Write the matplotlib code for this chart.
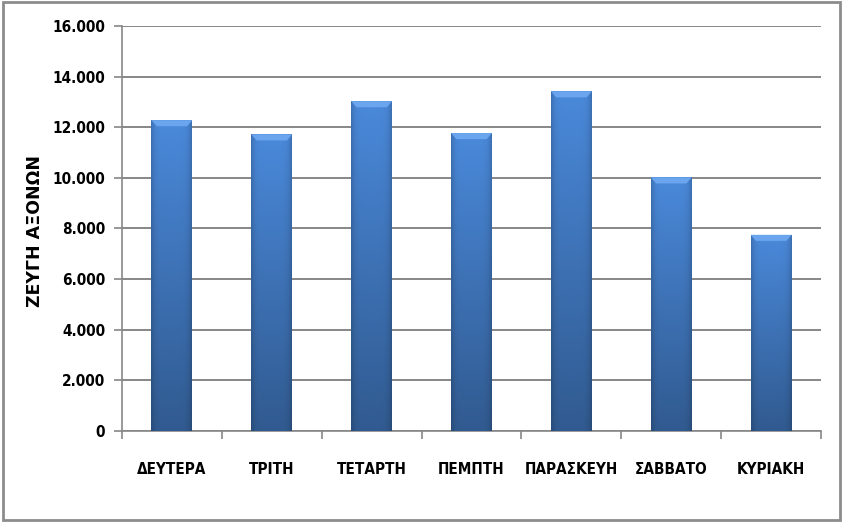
import matplotlib
matplotlib.use("Agg")
import matplotlib.pyplot as plt
import matplotlib.patches as patches
from matplotlib.ticker import FuncFormatter, FixedLocator
import numpy as np

days = ["ΔΕΥΤΕΡΑ", "ΤΡΙΤΗ", "ΤΕΤΑΡΤΗ", "ΠΕΜΠΤΗ", "ΠΑΡΑΣΚΕΥΗ", "ΣΑΒΒΑΤΟ", "ΚΥΡΙΑΚΗ"]
axle_pairs = [12280, 11720, 13030, 11770, 13420, 10020, 7750]
y_ticks = [0, 2000, 4000, 6000, 8000, 10000, 12000, 14000, 16000]

grey = "#878787"

fig = plt.figure(figsize=(8.44, 5.24), dpi=100)
ax = fig.add_axes([0.1445, 0.1775, 0.8283, 0.7729])

x = np.arange(len(days))
bars = ax.bar(x, axle_pairs, width=0.41, color="#3d77c4", zorder=3)

# gradient fill for each bar: a bit darker at the sides and towards the bottom
nx, ny = 64, 128
hx = np.linspace(-1, 1, nx)
side = 1 - 0.18 * np.abs(hx) ** 6
vert = np.linspace(0.66, 1.0, ny)[:, None]
shade = vert * side[None, :]
top = np.array([0x4a, 0x89, 0xda]) / 255.0
img = np.clip(shade[..., None] * top[None, None, :], 0, 1)

for b in bars:
    bx, bw, bh = b.get_x(), b.get_width(), b.get_height()
    im = ax.imshow(img, extent=(bx, bx + bw, 0, bh), origin="lower",
                   aspect="auto", zorder=3.5, interpolation="bilinear")
    im.set_clip_path(b)
    # bevelled top edge
    dx, dy = bw * 0.13, 240
    bevel = patches.Polygon([(bx, bh), (bx + bw, bh), (bx + bw - dx, bh - dy),
                             (bx + dx, bh - dy)], closed=True,
                            facecolor="#6aa5ee", edgecolor="none", zorder=4)
    ax.add_patch(bevel)
    b.set_edgecolor("none")

ax.set_xlim(-0.5, len(days) - 0.5)
ax.set_ylim(0, 16000)
ax.yaxis.set_major_locator(FixedLocator(y_ticks))
ax.yaxis.set_major_formatter(FuncFormatter(lambda v, p: f"{int(v):,}".replace(",", ".")))
ax.grid(axis="y", color=grey, linewidth=1.4, zorder=1)
ax.set_axisbelow(True)

ax.set_xticks(x)
ax.set_xticklabels(days)
ax.set_xticks(np.arange(len(days) + 1) - 0.5, minor=True)
ax.tick_params(axis="x", which="major", length=0, pad=22)
ax.tick_params(axis="x", which="minor", length=6, color=grey, width=1.2)
ax.tick_params(axis="y", length=6, color=grey, width=1.2, pad=6)
for lab in ax.get_xticklabels() + ax.get_yticklabels():
    lab.set_family("DejaVu Sans")
    lab.set_stretch("condensed")
    lab.set_fontweight("bold")
    lab.set_fontsize(11)

for s in ["top", "right"]:
    ax.spines[s].set_visible(False)
for s in ["left", "bottom"]:
    ax.spines[s].set_color(grey)
    ax.spines[s].set_linewidth(1.2)

fig.text(0.042, 0.56, "ΖΕΥΓΗ ΑΞΟΝΩΝ", rotation=90, ha="center", va="center",
         fontsize=12.5, fontweight="heavy", family="DejaVu Sans")

# chart frame
fig.add_artist(patches.Rectangle((0.003, 0.008), 0.992, 0.988, transform=fig.transFigure,
                                 fill=False, edgecolor="#8c8c8c", linewidth=2))

fig.savefig("out.png", dpi=100)
